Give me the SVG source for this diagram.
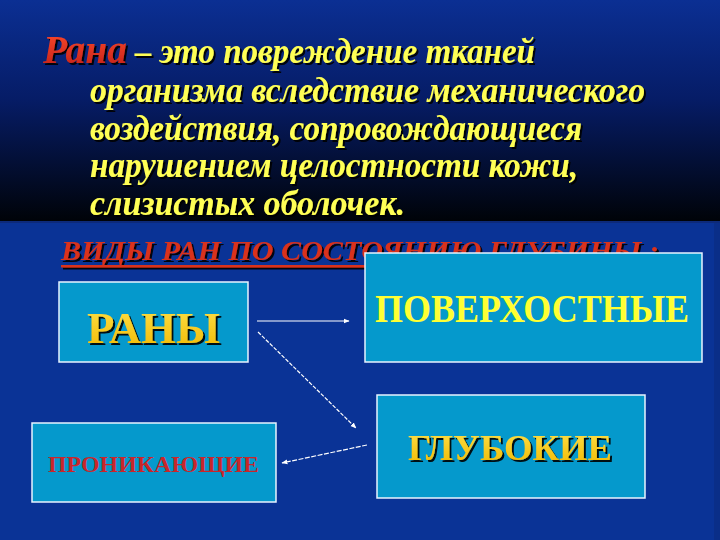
<svg xmlns="http://www.w3.org/2000/svg" width="720" height="540" viewBox="0 0 720 540">
  <defs>
    <linearGradient id="topGrad" x1="0" y1="0" x2="0" y2="1">
      <stop offset="0" stop-color="#0b2f93"/>
      <stop offset="0.45" stop-color="#061c66"/>
      <stop offset="1" stop-color="#000308"/>
    </linearGradient>
    <linearGradient id="ranaGrad" x1="0" y1="0" x2="0" y2="1">
      <stop offset="0" stop-color="#ff4a2a"/>
      <stop offset="1" stop-color="#c0201a"/>
    </linearGradient>
    <linearGradient id="goldGrad" x1="0" y1="0" x2="0" y2="1">
      <stop offset="0" stop-color="#ffe14a"/>
      <stop offset="1" stop-color="#f0b800"/>
    </linearGradient>
    <filter id="shadow" x="-10%" y="-20%" width="130%" height="150%">
      <feDropShadow dx="2" dy="2" stdDeviation="0.6" flood-color="#000000" flood-opacity="0.9"/>
    </filter>
    <marker id="arrow" viewBox="0 0 10 10" refX="9" refY="5" markerWidth="6" markerHeight="6" orient="auto" markerUnits="userSpaceOnUse">
      <path d="M0,1 L10,5 L0,9 z" fill="#ffffff"/>
    </marker>
    <style>
      .body { font-family: "Liberation Serif", "DejaVu Serif", serif; font-style: italic; font-weight: bold; fill: #ffff55; font-size: 35px; }
      .rana { fill: url(#ranaGrad); font-size: 39px; }
      .box { fill: #0599cc; stroke: #e8f4ff; stroke-width: 1.5; }
      .lbl { font-family: "Liberation Serif", "DejaVu Serif", serif; font-weight: bold; }
      .conn { stroke: #ffffff; stroke-width: 1.2; fill: none; marker-end: url(#arrow); }
    </style>
  </defs>

  <!-- background -->
  <rect x="0" y="0" width="720" height="540" fill="#0a3396"/>
  <rect x="0" y="0" width="720" height="221" fill="url(#topGrad)"/>
  <rect x="0" y="221" width="720" height="2" fill="#0d2a7a"/>
  <rect x="714" y="223" width="6" height="317" fill="#0a2e88"/>

  <!-- definition text -->
  <g id="definition" filter="url(#shadow)">
    <text x="43" y="63" class="body rana" textLength="84" lengthAdjust="spacingAndGlyphs">Рана</text>
    <text x="135" y="63" class="body" textLength="400" lengthAdjust="spacingAndGlyphs">– это повреждение тканей</text>
    <text x="90" y="102" class="body" textLength="555" lengthAdjust="spacingAndGlyphs">организма вследствие механического</text>
    <text x="90" y="140" class="body" textLength="492" lengthAdjust="spacingAndGlyphs">воздействия, сопровождающиеся</text>
    <text x="90" y="177" class="body" textLength="488" lengthAdjust="spacingAndGlyphs">нарушением целостности кожи,</text>
    <text x="90" y="215" class="body" textLength="315" lengthAdjust="spacingAndGlyphs">слизистых оболочек.</text>
  </g>

  <!-- subtitle -->
  <g id="subtitle" filter="url(#shadow)">
    <text x="61" y="260" class="lbl" font-style="italic" font-size="28" fill="#d9301c" textLength="598" lengthAdjust="spacingAndGlyphs">ВИДЫ РАН ПО СОСТОЯНИЮ ГЛУБИНЫ :</text>
    <rect x="61" y="265" width="599" height="2.5" fill="#d9301c"/>
  </g>

  <!-- nodes -->
  <g id="node-rany">
    <rect class="box" x="59" y="282" width="189" height="80"/>
    <text x="87" y="343" class="lbl" font-size="45" fill="url(#goldGrad)" filter="url(#shadow)" textLength="133" lengthAdjust="spacingAndGlyphs">РАНЫ</text>
  </g>

  <g id="node-poverhnostnye">
    <rect class="box" x="365" y="253" width="337" height="109"/>
    <text x="375" y="322" class="lbl" font-size="39" fill="#ffff33" textLength="314" lengthAdjust="spacingAndGlyphs">ПОВЕРХОСТНЫЕ</text>
  </g>

  <g id="node-glubokie">
    <rect class="box" x="377" y="395" width="268" height="103"/>
    <text x="408" y="460" class="lbl" font-size="36" fill="url(#goldGrad)" filter="url(#shadow)" textLength="204" lengthAdjust="spacingAndGlyphs">ГЛУБОКИЕ</text>
  </g>

  <g id="node-pronikayushchie">
    <rect class="box" x="32" y="423" width="244" height="79"/>
    <text x="48" y="472" class="lbl" font-size="24" fill="#c8262a" textLength="211" lengthAdjust="spacingAndGlyphs">ПРОНИКАЮЩИЕ</text>
  </g>

  <!-- connectors -->
  <g id="connectors">
    <line class="conn" x1="257" y1="321" x2="349" y2="321"/>
    <line class="conn" x1="258" y1="332" x2="356" y2="428" stroke-dasharray="4 1.5"/>
    <line class="conn" x1="367" y1="445" x2="282" y2="463" stroke-dasharray="5 1.5"/>
  </g>
</svg>
